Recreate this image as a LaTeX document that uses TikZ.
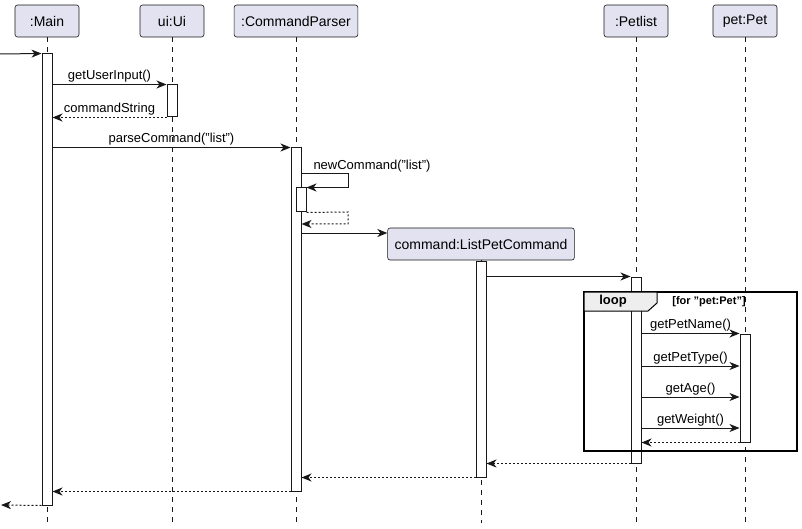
\documentclass[tikz,border=0pt]{standalone}
\usepackage{fontspec}
\setmainfont{Liberation Sans}
\usetikzlibrary{arrows.meta,fit}
\definecolor{headfill}{RGB}{226,226,240}
\definecolor{linegray}{RGB}{24,24,24}
\definecolor{tabgray}{RGB}{238,238,238}

\begin{document}
\begin{tikzpicture}[x=1pt, y=-1pt,
    head/.style={draw=linegray, fill=headfill, rounded corners=2.5pt, line width=0.6pt,
                 minimum width=64pt, minimum height=32pt, inner xsep=7pt,
                 font=\fontsize{14}{16}\selectfont},
    life/.style={draw=linegray, line width=0.6pt, dash pattern=on 5pt off 5pt},
    act/.style={draw=linegray, fill=white, line width=1pt, inner sep=0pt},
    msg/.style={draw=linegray, line width=1pt, -{Stealth[length=10pt, width=8pt, inset=3pt]}},
    ret/.style={msg, dash pattern=on 2pt off 2pt},
    lbl/.style={font=\fontsize{13}{15}\selectfont, inner sep=1.5pt, above}]
    \useasboundingbox (0,0) rectangle (802,529);
    % Participants
    \node[head] (main)    at ( 47, 21) {:Main};
    \node[head] (ui)      at (172, 21) {ui:Ui};
    \node[head] (parser)  at (296, 21) {:CommandParser};
    \node[head] (petlist) at (636, 21) {:Petlist};
    \node[head] (pet)     at (745, 21) {pet:Pet};
    \node[head] (listcmd) at (481,244) {command:ListPetCommand};
    % Lifelines
    \coordinate (lifeEnd) at (0,523);
    \foreach \p in {main,ui,parser,petlist,pet,listcmd}
        \draw[life] (\p.south) -- (\p.south |- lifeEnd);
    % Activation bars
    \node[act, fit={( 42, 54) ( 52,505)}] (mainAct) {};
    \node[act, fit={(167, 85) (177,117)}] (uiAct)   {};
    \node[act, fit={(291,148) (301,491)}] (cpAct)   {};
    \node[act, fit={(296,188) (306,212)}] (cpSub)   {};
    \node[act, fit={(476,261) (486,477)}] (lpcAct)  {};
    \node[act, fit={(631,277) (641,463)}] (plAct)   {};
    \node[act, fit={(740,334) (750,442)}] (petAct)  {};
    % Loop frame
    \draw[line width=1.8pt]                (584,292) rectangle (797,451);
    \draw[fill=tabgray, line width=1pt]    (584,292) -- (657,292) -- (657,303) -- (648,311) -- (584,311) -- cycle;
    \node[font=\bfseries\fontsize{13}{15}\selectfont] (loopTag)   at (613,301) {loop};
    \node[font=\bfseries\fontsize{11}{13}\selectfont] (loopGuard) at (709,302) {[for "pet:Pet"]};
    % Message levels
    \coordinate (inStart)  at (  0, 54);
    \coordinate (outEnd)   at (  1,505);
    \coordinate (selfOut)  at (348,174);
    \coordinate (selfBack) at (348,212);
    \coordinate (selfEnd)  at (348,224);
    \coordinate (create)   at (  0,233);
    \coordinate (mType)    at (  0,366);
    \coordinate (mAge)     at (  0,397);
    \coordinate (mWeight)  at (  0,428);
    % Calls
    \draw[msg] (inStart) -- (mainAct.north west);
    \draw[msg] (mainAct.east |- uiAct.north) -- node[lbl] {getUserInput()} (uiAct.north west);
    \draw[ret] (uiAct.south west) -- node[lbl] {commandString} (mainAct.east |- uiAct.south);
    \draw[msg] (mainAct.east |- cpAct.north) -- node[lbl] {parseCommand("list")} (cpAct.north west);
    \draw[msg] (cpAct.east |- selfOut)
        -- node[lbl, anchor=south west, pos=0, xshift=10pt] {newCommand("list")} (selfOut)
        |- (cpSub.north east);
    \draw[ret] (cpSub.south east) -- (selfBack) -- (selfEnd) -- (cpAct.east |- selfEnd);
    \draw[msg] (cpAct.east |- create) -- (listcmd.west |- create);
    \draw[msg] (lpcAct.east |- plAct.north) -- (plAct.north west);
    % Loop body
    \draw[msg] (plAct.east |- petAct.north) -- node[lbl] {getPetName()} (petAct.north west);
    \draw[msg] (plAct.east |- mType)   -- node[lbl] {getPetType()} (petAct.west |- mType);
    \draw[msg] (plAct.east |- mAge)    -- node[lbl] {getAge()}     (petAct.west |- mAge);
    \draw[msg] (plAct.east |- mWeight) -- node[lbl] {getWeight()}  (petAct.west |- mWeight);
    % Returns
    \draw[ret] (petAct.south west) -- (plAct.east |- petAct.south);
    \draw[ret] (plAct.south west)  -- (lpcAct.east |- plAct.south);
    \draw[ret] (lpcAct.south west) -- (cpAct.east |- lpcAct.south);
    \draw[ret] (cpAct.south west)  -- (mainAct.east |- cpAct.south);
    \draw[ret] (mainAct.south west) -- (outEnd);
\end{tikzpicture}
\end{document}
